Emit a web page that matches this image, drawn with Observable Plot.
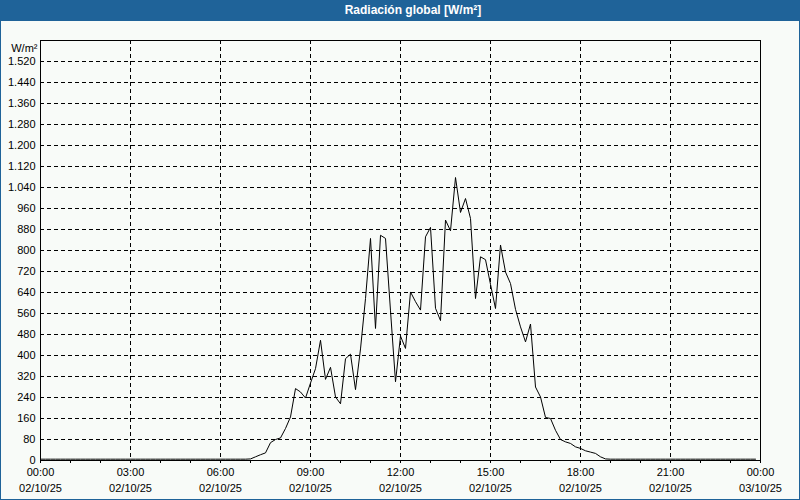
<!DOCTYPE html>
<html>
<head>
<meta charset="utf-8">
<script src="https://cdn.jsdelivr.net/npm/d3@7"></script>
<script src="https://cdn.jsdelivr.net/npm/@observablehq/plot@0.6"></script>
<style>
  html, body { margin: 0; padding: 0; background: #f8fbf8; }
  #wrap { position: relative; width: 800px; height: 500px; background: #f8fbf8; overflow: hidden; }
  #title { position: absolute; left: 0; top: 0; width: 800px; height: 21px; background: #1f6399; }
  #title span { position: absolute; left: 413px; top: 0; transform: translateX(-50%); color: #fff;
    font: bold 12px "Liberation Sans", Arial, sans-serif; line-height: 21px; white-space: nowrap; }
  #chart { position: absolute; left: 0; top: 21px; }
  #border { position: absolute; left: 0; top: 0; width: 800px; height: 500px; box-sizing: border-box;
    border: 1px solid #1f6399; pointer-events: none; }
</style>
</head>
<body>
<div id="wrap">
  <div id="title"><span>Radiación global [W/m²]</span></div>
  <div id="chart"></div>
  <div id="border"></div>
</div>
<script>
// ---- data (10-minute readings, 02/10/25 00:00 … 23:50) ----
const titleText = "Radiación global [W/m²]";
const unitLabel = "W/m²";
const dayStart = new Date(Date.UTC(2025, 9, 2, 0, 0));
const dayEnd = new Date(Date.UTC(2025, 9, 3, 0, 0));

const values = [
  // 00:00 - 06:50
  5,5,5,5,5,5,  5,5,5,5,5,5,  5,5,5,5,5,5,  5,5,5,5,5,5,  5,5,5,5,5,5,  5,5,5,5,5,5,  5,5,5,5,5,5,
  // 07
  6,14,22,29,68,80,
  // 08
  86,122,166,274,261,238,
  // 09
  295,350,458,309,355,242,
  // 10
  216,388,405,270,425,617,
  // 11
  846,503,858,846,570,300,
  // 12
  474,427,642,605,573,852,
  // 13
  888,580,533,916,875,1078,
  // 14
  945,998,922,617,776,765,
  // 15
  671,579,821,718,674,576,
  // 16
  509,452,520,280,242,164,
  // 17
  160,115,80,71,65,52,
  // 18
  46,37,32,27,14,6,
  // 19:00 - 23:50
  5,5,5,5,5,5,  5,5,5,5,5,5,  5,5,5,5,5,5,  5,5,5,5,5,5,  5,5,5,5,5,5
];
const times = d3.utcMinute.every(10).range(dayStart, dayEnd);

const yTicks = [0,80,160,240,320,400,480,560,640,720,800,880,960,1040,1120,1200,1280,1360,1440,1520];
const yGrid = yTicks.slice(1);
const xTicks = d3.utcHour.every(3).range(dayStart, new Date(+dayEnd + 1));
const xGrid = xTicks.slice(1, -1);
const hourTicks = d3.utcHour.every(1).range(dayStart, new Date(+dayEnd + 1));

const data = times.map((t, i) => ({t, v: values[i]}));

const esFmt = d3.formatLocale({decimal: ",", thousands: ".", grouping: [3], currency: ["", "€"]}).format(",d");
const pad = n => String(n).padStart(2, "0");
const fmtTime = d => `${pad(d.getUTCHours())}:${pad(d.getUTCMinutes())}`;
const fmtDate = d => `${pad(d.getUTCDate())}/${pad(d.getUTCMonth() + 1)}/${String(d.getUTCFullYear()).slice(2)}`;

const font = '"Liberation Sans", Arial, sans-serif';

const chart = Plot.plot({
  width: 800,
  height: 478,
  marginLeft: 40,
  marginRight: 40,
  marginTop: 19,
  marginBottom: 39,
  style: {background: "transparent", fontFamily: font, fontSize: "11px", color: "#000"},
  x: {type: "utc", domain: [dayStart, dayEnd]},
  y: {domain: [0, 1600]},
  marks: [
    Plot.gridX(xGrid, {stroke: "#000", strokeOpacity: 1, strokeDasharray: "4,3"}),
    Plot.gridY(yGrid, {stroke: "#000", strokeOpacity: 1, strokeDasharray: "4,3"}),
    Plot.axisY(yTicks, {tickSize: 0, tickPadding: 5, tickFormat: esFmt, label: null, fontSize: 11}),
    Plot.axisX(hourTicks, {tickSize: 3, tickFormat: () => "", label: null}),
    Plot.axisX(xTicks, {tickSize: 0, tickPadding: 8, tickFormat: fmtTime, label: null, fontSize: 11}),
    Plot.axisX(xTicks, {tickSize: 0, tickPadding: 24, tickFormat: fmtDate, label: null, fontSize: 11}),
    Plot.text([unitLabel], {frameAnchor: "top-left", dx: -3, dy: 4, textAnchor: "end", fontSize: 11}),
    Plot.line(data, {x: "t", y: "v", stroke: "#000", strokeWidth: 1}),
    Plot.frame({stroke: "#000"})
  ]
});
document.getElementById("chart").appendChild(chart);
</script>
</body>
</html>
